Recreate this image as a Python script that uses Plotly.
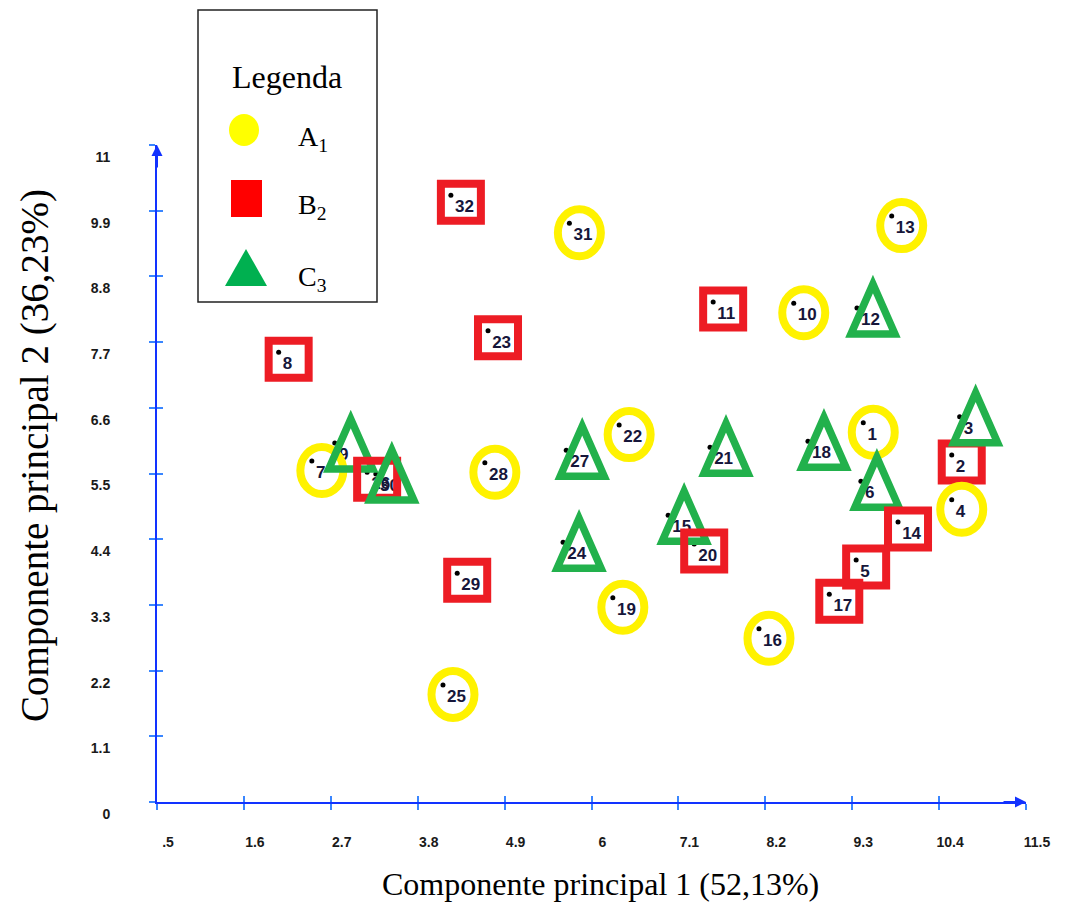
import plotly.graph_objects as go

# ---------------- data (PC1, PC2 of each sample) ----------------
a_labels = ["1", "4", "7", "10", "13", "16", "19", "22", "25", "28", "31"]
a_pc1 = [9.44, 10.56, 2.46, 8.56, 9.80, 8.12, 6.27, 6.35, 4.12, 4.65, 5.72]
a_pc2 = [6.35, 5.06, 5.71, 8.35, 9.81, 2.90, 3.42, 6.31, 1.96, 5.68, 9.69]

b_labels = ["2", "5", "8", "11", "14", "17", "20", "23", "26", "29", "32"]
b_pc1 = [10.56, 9.35, 2.04, 7.54, 9.88, 9.01, 7.30, 4.69, 3.16, 4.30, 4.22]
b_pc2 = [5.81, 4.05, 7.53, 8.37, 4.69, 3.48, 4.32, 7.89, 5.52, 3.83, 10.16]

c_labels = ["3", "6", "9", "12", "15", "18", "21", "24", "27", "30"]
c_pc1 = [10.66, 9.41, 2.75, 9.36, 6.97, 8.74, 7.50, 5.64, 5.68, 3.27]
c_pc2 = [6.45, 5.37, 6.01, 8.27, 4.80, 6.04, 5.94, 4.35, 5.89, 5.49]

x_tick_text = [".5", "1.6", "2.7", "3.8", "4.9", "6", "7.1", "8.2", "9.3", "10.4", "11.5"]
y_tick_text = ["0", "1.1", "2.2", "3.3", "4.4", "5.5", "6.6", "7.7", "8.8", "9.9", "11"]

x_title = "Componente principal 1 (52,13%)"
y_title = "Componente principal 2 (36,23%)"
legend_title = "Legenda"
legend_names = ["A<sub>1</sub>", "B<sub>2</sub>", "C<sub>3</sub>"]

# ---------------- style ----------------
W, H = 1066, 903
L, R, T, B = 157, 40, 145, 101
PW, PH = W - L - R, H - T - B

def pxx(px):
    return (px - L) / PW

def pxy(py):
    return (H - B - py) / PH

AXIS_BLUE = "#1232ff"
TICK_BLUE = "#3a86ff"
YELLOW = "#FFF200"
RED = "#ED1C24"
GREEN = "#22B14C"
LABEL_COLOR = "#16163a"

x_tick_vals = [float(t) for t in x_tick_text]
y_tick_vals = [float(t) for t in y_tick_text]

groups = [
    dict(name="A1", labels=a_labels, x=a_pc1, y=a_pc2, kind="circle", color=YELLOW),
    dict(name="B2", labels=b_labels, x=b_pc1, y=b_pc2, kind="square", color=RED),
    dict(name="C3", labels=c_labels, x=c_pc1, y=c_pc2, kind="triangle", color=GREEN),
]

fig = go.Figure()

for g in groups:
    fig.add_trace(go.Scatter(
        x=g["x"], y=g["y"], text=g["labels"], name=g["name"],
        mode="markers+text", textposition="bottom right",
        marker=dict(size=5, color="black"),
        textfont=dict(family="Liberation Sans", size=17, color=LABEL_COLOR, weight="bold"),
        showlegend=False, cliponaxis=False,
    ))

# dummy trace so the overlay axes (inside tick halves) are drawn
fig.add_trace(go.Scatter(x=[None], y=[None], xaxis="x2", yaxis="y2",
                         showlegend=False, hoverinfo="skip"))

# outline symbols around each point, drawn in sample-number order
items = []
for g in groups:
    for lab, x, y in zip(g["labels"], g["x"], g["y"]):
        items.append((int(lab), x, y, g["kind"], g["color"]))
items.sort(key=lambda t: t[0])

shapes = []
for n, x, y, kind, color in items:
    base = dict(xref="x", yref="y", xsizemode="pixel", ysizemode="pixel",
                xanchor=x, yanchor=y, layer="above",
                fillcolor="rgba(0,0,0,0)")
    if kind == "circle":
        shapes.append(dict(base, type="circle", x0=-11.5, x1=31.5, y0=-33, y1=14,
                           line=dict(color=color, width=8)))
    elif kind == "square":
        shapes.append(dict(base, type="rect", x0=-10, x1=30, y0=-25.5, y1=11.5,
                           line=dict(color=color, width=8)))
    else:
        shapes.append(dict(base, type="path", path="M-6,-26L38,-26L16,24Z",
                           line=dict(color=color, width=7.5)))

# legend box and symbols
shapes.append(dict(type="rect", xref="paper", yref="paper",
                   x0=pxx(198), x1=pxx(377), y0=pxy(302), y1=pxy(10),
                   line=dict(color="#222222", width=1.5), fillcolor="white", layer="above"))
shapes.append(dict(type="circle", xref="paper", yref="paper",
                   x0=pxx(229), x1=pxx(259), y0=pxy(146), y1=pxy(114),
                   line=dict(width=0), fillcolor="#FFFF00", layer="above"))
shapes.append(dict(type="rect", xref="paper", yref="paper",
                   x0=pxx(231), x1=pxx(262), y0=pxy(217), y1=pxy(180),
                   line=dict(width=0), fillcolor="#FF0000", layer="above"))
shapes.append(dict(type="path", xref="paper", yref="paper", xsizemode="pixel", ysizemode="pixel",
                   xanchor=pxx(246), yanchor=pxy(286), path="M-21,0L21,0L0,37Z",
                   line=dict(width=0), fillcolor="#00B050", layer="above"))

annotations = [
    # axis arrows
    dict(x=0.5, y=11, xref="x", yref="y", ax=0, ay=24, text="", showarrow=True,
         arrowhead=2, arrowsize=1.1, arrowwidth=2, arrowcolor=AXIS_BLUE),
    dict(x=11.5, y=0, xref="x", yref="y", ax=-24, ay=0, text="", showarrow=True,
         arrowhead=2, arrowsize=1.1, arrowwidth=2, arrowcolor=AXIS_BLUE),
    # axis titles
    dict(text=x_title, x=pxx(600), y=pxy(884), xref="paper", yref="paper",
         showarrow=False, xanchor="center", yanchor="middle",
         font=dict(family="Liberation Serif", size=32, color="black")),
    dict(text=y_title, x=pxx(35), y=pxy(456), xref="paper", yref="paper",
         showarrow=False, xanchor="center", yanchor="middle", textangle=-90,
         font=dict(family="Liberation Serif", size=39, color="black")),
    # legend text
    dict(text=legend_title, x=pxx(287), y=pxy(77), xref="paper", yref="paper",
         showarrow=False, xanchor="center", yanchor="middle",
         font=dict(family="Liberation Serif", size=32, color="black")),
]
for name, py in zip(legend_names, [138, 206, 278]):
    annotations.append(dict(text=name, x=pxx(296), y=pxy(py), xref="paper", yref="paper",
                            showarrow=False, xanchor="left", yanchor="middle",
                            font=dict(family="Liberation Serif", size=28, color="black")))

tickfont = dict(family="Liberation Sans", size=14, color="#1a1a1a", weight="bold")

fig.update_layout(
    width=W, height=H,
    margin=dict(l=L, r=R, t=T, b=B, pad=0),
    paper_bgcolor="white", plot_bgcolor="white",
    showlegend=False,
    xaxis=dict(range=[0.5, 11.5], tickvals=x_tick_vals, ticktext=x_tick_text,
               showgrid=False, zeroline=False, showline=True,
               linecolor=AXIS_BLUE, linewidth=2,
               ticks="outside", ticklen=6, tickwidth=1.5, tickcolor=TICK_BLUE,
               tickfont=tickfont, ticklabelshift=11, ticklabelstandoff=20),
    yaxis=dict(range=[0, 11], tickvals=y_tick_vals, ticktext=y_tick_text,
               showgrid=False, zeroline=False, showline=True,
               linecolor=AXIS_BLUE, linewidth=2,
               ticks="outside", ticklen=6, tickwidth=1.5, tickcolor=TICK_BLUE,
               tickfont=tickfont, ticklabelshift=12, ticklabelstandoff=36),
    xaxis2=dict(overlaying="x", matches="x", anchor="y2", side="bottom",
                tickvals=x_tick_vals, showticklabels=False, ticks="inside",
                ticklen=6, tickwidth=1.5, tickcolor=TICK_BLUE,
                showgrid=False, zeroline=False, showline=False),
    yaxis2=dict(overlaying="y", matches="y", anchor="x2", side="left",
                tickvals=y_tick_vals, showticklabels=False, ticks="inside",
                ticklen=6, tickwidth=1.5, tickcolor=TICK_BLUE,
                showgrid=False, zeroline=False, showline=False),
    shapes=shapes,
    annotations=annotations,
)

fig.write_html("out.html", config={"displayModeBar": False},
               post_script="document.body.style.margin='0';")
